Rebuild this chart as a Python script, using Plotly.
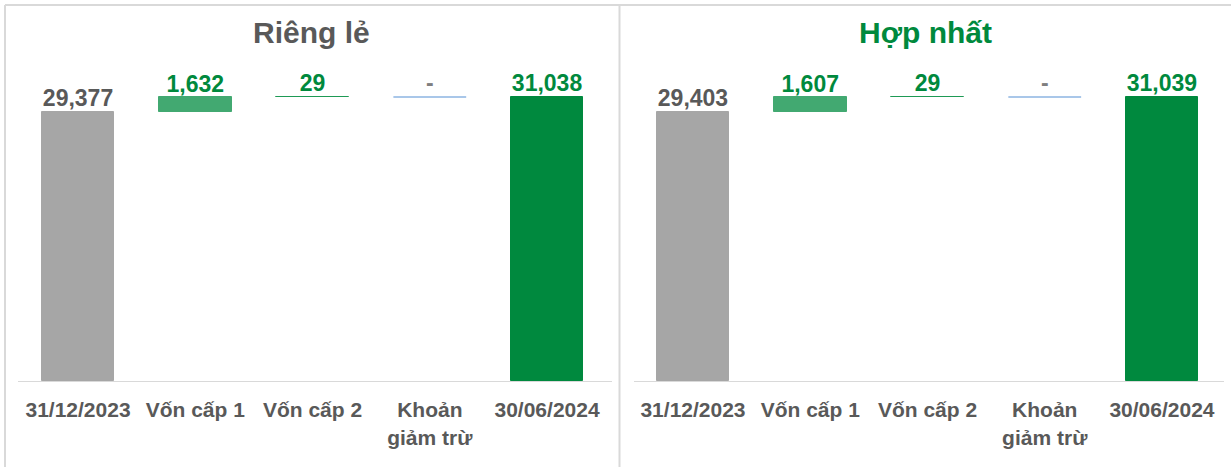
import plotly.graph_objects as go

W, H = 1231, 467

categories = ["31/12/2023", "Vốn cấp 1", "Vốn cấp 2", "Khoản<br>giảm trừ", "30/06/2024"]
titles = ["Riêng lẻ", "Hợp nhất"]
rieng_le = [29377, 1632, 29, 0, 31038]
hop_nhat = [29403, 1607, 29, 0, 31039]

bar_colors = ["#a6a6a6", "#42a971", "#1e9a55", "#8db4e2", "#00893e"]
label_colors = ["#595959", "#00893d", "#00893d", "#7f7f7f", "#00893d"]
title_colors = ["#595959", "#00893d"]

FONT = "Liberation Sans, Arial, sans-serif"


def px_x(p):
    return p / W


def px_y(p):
    return 1 - p / H


def waterfall(vals):
    start, d1, d2, d3, end = vals
    bases = [0, start, start + d1, start + d1 + d2 - d3, 0]
    heights = [start, d1, d2, d3, end]
    return bases, heights


fig = go.Figure()

# panel geometry (pixels)
panels = [
    dict(x0=18, x1=612, rng=[-0.512, 4.554], center=311),
    dict(x0=634, x1=1224, rng=[-0.503, 4.529], center=925),
]
y_bottom, y_top = 381, 60
y_max = 31038 * (y_bottom - y_top) / (381 - 97)

for i, (vals, pan) in enumerate(zip([rieng_le, hop_nhat], panels)):
    xa = "x" if i == 0 else "x2"
    ya = "y" if i == 0 else "y2"
    bases, heights = waterfall(vals)
    tops = [b + h for b, h in zip(bases, heights)]
    nonzero = [h != 0 for h in heights]
    fig.add_trace(go.Bar(
        x=[c for c, nz in zip(categories, nonzero) if nz],
        y=[h for h, nz in zip(heights, nonzero) if nz],
        base=[b for b, nz in zip(bases, nonzero) if nz],
        marker=dict(
            color=[c for c, nz in zip(bar_colors, nonzero) if nz],
            line=dict(color=[c for c, nz in zip(bar_colors, nonzero) if nz], width=1),
        ),
        width=0.62,
        xaxis=xa, yaxis=ya, showlegend=False, hoverinfo="skip",
    ))
    # zero-valued steps drawn as a thin horizontal line
    fig.add_trace(go.Scatter(
        x=[c for c, nz in zip(categories, nonzero) if not nz],
        y=[t for t, nz in zip(tops, nonzero) if not nz],
        mode="markers",
        marker=dict(symbol="line-ew", size=52,
                    line=dict(color=[c for c, nz in zip(bar_colors, nonzero) if not nz], width=1.5)),
        xaxis=xa, yaxis=ya, showlegend=False, hoverinfo="skip",
    ))
    labels = ["-" if v == 0 else f"{v:,}" for v in vals]
    fig.add_trace(go.Scatter(
        x=categories, y=tops, mode="text", text=labels,
        textposition="top center",
        textfont=dict(family=FONT, size=23, weight="bold", color=label_colors),
        xaxis=xa, yaxis=ya, showlegend=False, hoverinfo="skip", cliponaxis=False,
    ))
    fig.add_annotation(
        x=px_x(pan["center"]), y=px_y(33), xref="paper", yref="paper",
        text=titles[i], showarrow=False, xanchor="center", yanchor="middle",
        font=dict(family=FONT, size=30, weight="bold", color=title_colors[i]),
    )

axis_common = dict(
    type="category", showgrid=False, zeroline=False, showline=True,
    linecolor="#d9d9d9", linewidth=1, ticks="", ticklabelstandoff=10,
    tickfont=dict(family=FONT, size=21, weight="bold", color="#595959"),
    fixedrange=True,
)
yaxis_common = dict(range=[0, y_max], visible=False, showgrid=False, zeroline=False, fixedrange=True)

fig.update_layout(
    width=W, height=H, autosize=False,
    margin=dict(l=0, r=0, t=0, b=0),
    paper_bgcolor="white", plot_bgcolor="white",
    bargap=0,
    xaxis=dict(domain=[px_x(panels[0]["x0"]), px_x(panels[0]["x1"])], range=panels[0]["rng"],
               anchor="y", categoryorder="array", categoryarray=categories, **axis_common),
    xaxis2=dict(domain=[px_x(panels[1]["x0"]), px_x(panels[1]["x1"])], range=panels[1]["rng"],
                anchor="y2", categoryorder="array", categoryarray=categories, **axis_common),
    yaxis=dict(domain=[px_y(y_bottom), px_y(y_top)], anchor="x", **yaxis_common),
    yaxis2=dict(domain=[px_y(y_bottom), px_y(y_top)], anchor="x2", **yaxis_common),
)

# panel borders
border = dict(color="#d9d9d9", width=2)
fig.add_shape(type="line", xref="paper", yref="paper", x0=px_x(5), x1=1, y0=px_y(5), y1=px_y(5), line=border)
fig.add_shape(type="line", xref="paper", yref="paper", x0=px_x(5), x1=px_x(5), y0=px_y(5), y1=0, line=border)
fig.add_shape(type="line", xref="paper", yref="paper", x0=px_x(619.5), x1=px_x(619.5), y0=px_y(5), y1=0, line=border)

fig.write_html("out.html", config={"displayModeBar": False},
               post_script="document.body.style.margin='0px';")
